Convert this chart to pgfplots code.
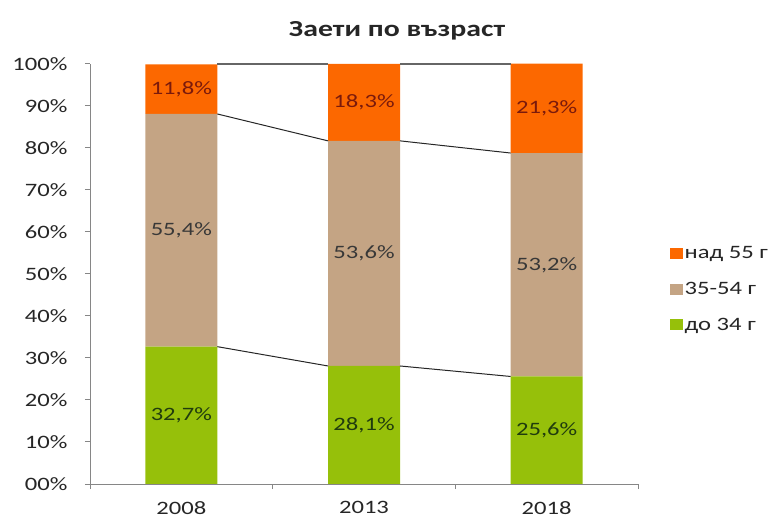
\documentclass[border=0pt]{standalone}
\usepackage{fontspec}
\setmainfont{Carlito}[FakeStretch=1.3]
\usepackage{pgfplots}
\pgfplotsset{compat=1.18}
\definecolor{cOld}{RGB}{252,104,0}
\definecolor{cMid}{RGB}{196,164,132}
\definecolor{cYoung}{RGB}{150,192,10}
\definecolor{tOld}{RGB}{122,26,12}
\definecolor{tMid}{RGB}{56,56,56}
\definecolor{tYoung}{RGB}{32,60,14}
\definecolor{axgray}{RGB}{134,134,134}
\definecolor{txt}{RGB}{38,38,38}
\newcommand{\lblfont}{\fontsize{19}{22}\selectfont}
\begin{document}
\begin{tikzpicture}
\path[use as bounding box] (0,0) rectangle (779bp,518bp);
\node[font=\bfseries\fontsize{23}{27}\selectfont, text=txt] at (397bp,487bp) {Заети по възраст};
% bars
\begin{axis}[
  at={(90bp,34bp)}, anchor=south west, scale only axis,
  width=548bp, height=420bp,
  xmin=-0.5, xmax=2.5, ymin=0, ymax=100,
  ybar stacked, bar width=72bp,
  axis x line*=bottom, axis y line*=left,
  axis line style={draw=axgray, line width=1bp},
  every tick/.style={draw=axgray, line width=1bp},
  tick align=outside, major tick length=5bp,
  xtick={-0.5,0.5,1.5,2.5}, x tick label as interval,
  xticklabels={2008,2013,2018},
  ytick={0,10,20,30,40,50,60,70,80,90,100},
  yticklabels={00\%,10\%,20\%,30\%,40\%,50\%,60\%,70\%,80\%,90\%,100\%},
  ticklabel style={font=\lblfont, text=txt},
  yticklabel style={xshift=-14bp},
  xticklabel style={yshift=-9bp},
  legend style={draw=none, fill=none, at={(axis description cs:1.053,0.464)}, anchor=west,
    font=\lblfont, text=txt, row sep=18bp},
  legend cell align=left, reverse legend,
  legend image code/.code={\draw[#1, draw=none] (0bp,-5.5bp) rectangle (12.5bp,5.5bp);},
]
\addplot[fill=cYoung, draw=none] coordinates {(0,32.7) (1,28.1) (2,25.6)};
\addplot[fill=cMid, draw=none] coordinates {(0,55.4) (1,53.6) (2,53.2)};
\addplot[fill=cOld, draw=none] coordinates {(0,11.8) (1,18.3) (2,21.3)};
\legend{до 34 г, 35-54 г, над 55 г}
\end{axis}
% series lines and data labels
\begin{axis}[
  at={(90bp,34bp)}, anchor=south west, scale only axis,
  width=548bp, height=420bp,
  xmin=-0.5, xmax=2.5, ymin=0, ymax=100,
  axis lines=none, clip=false,
  nodes near coords style={anchor=center, font=\lblfont},
]
\addplot[black!85, line width=1bp] coordinates {(0.197,32.7) (0.803,28.1)};
\addplot[black!85, line width=1bp] coordinates {(1.197,28.1) (1.803,25.6)};
\addplot[black!85, line width=1bp] coordinates {(0.197,88.1) (0.803,81.7)};
\addplot[black!85, line width=1bp] coordinates {(1.197,81.7) (1.803,78.8)};
\addplot[black!60, line width=2.5bp] coordinates {(0.197,100) (0.803,100)};
\addplot[black!60, line width=2.5bp] coordinates {(1.197,100) (1.803,100)};
\addplot[draw=none, mark=none, nodes near coords, point meta=explicit symbolic,
  nodes near coords style={text=tYoung}]
  coordinates {(0,16.35)[{32,7\%}] (1,14.05)[{28,1\%}] (2,12.8)[{25,6\%}]};
\addplot[draw=none, mark=none, nodes near coords, point meta=explicit symbolic,
  nodes near coords style={text=tMid}]
  coordinates {(0,60.4)[{55,4\%}] (1,54.9)[{53,6\%}] (2,52.2)[{53,2\%}]};
\addplot[draw=none, mark=none, nodes near coords, point meta=explicit symbolic,
  nodes near coords style={text=tOld}]
  coordinates {(0,94.0)[{11,8\%}] (1,90.85)[{18,3\%}] (2,89.45)[{21,3\%}]};
\end{axis}
\end{tikzpicture}
\end{document}
